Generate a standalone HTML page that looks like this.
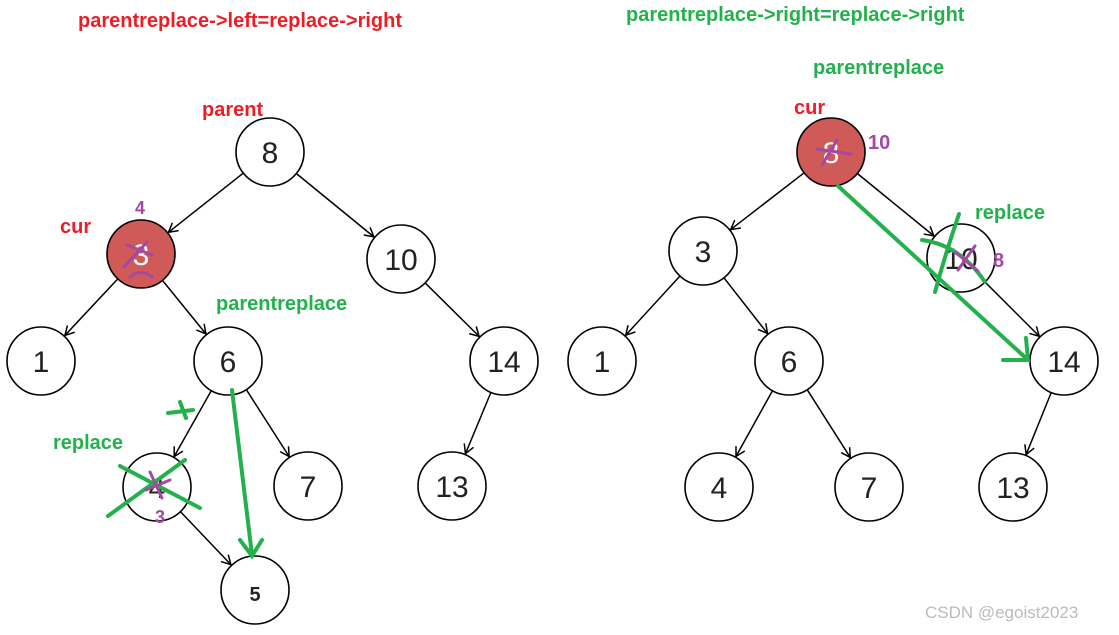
<!DOCTYPE html>
<html><head><meta charset="utf-8"><style>
html,body{margin:0;padding:0;background:#fff;}
svg{display:block;font-family:"Liberation Sans","DejaVu Sans",sans-serif;}
</style></head><body>
<svg id="s" width="1119" height="635" viewBox="0 0 1119 635" xmlns="http://www.w3.org/2000/svg">
<defs><marker id="a" markerWidth="12" markerHeight="12" refX="10" refY="6" orient="auto" markerUnits="userSpaceOnUse"><path d="M1,1 L10,6 L1,11" fill="none" stroke="#000" stroke-width="1.5"/></marker></defs>
<g id="edges" stroke="#000" stroke-width="1.5" fill="none"></g>
<g id="nodes"></g>
<g font-weight="bold" font-size="20">
<text x="78" y="27" fill="#ee1c25">parentreplace-&gt;left=replace-&gt;right</text>
<text x="626" y="21" fill="#22b14c">parentreplace-&gt;right=replace-&gt;right</text>
<text x="202" y="116" fill="#ee1c25">parent</text>
<text x="60" y="233" fill="#ee1c25">cur</text>
<text x="216" y="310" fill="#22b14c">parentreplace</text>
<text x="53" y="449" fill="#22b14c">replace</text>
<text x="813" y="74" fill="#22b14c">parentreplace</text>
<text x="794" y="114" fill="#ee1c25">cur</text>
<text x="975" y="219" fill="#22b14c">replace</text>
<text x="135" y="214" fill="#a349a4" font-size="18">4</text>
<text x="155" y="523" fill="#a349a4" font-size="18">3</text>
<text x="868" y="149" fill="#a349a4">10</text>
<text x="993" y="267" fill="#a349a4">8</text>
</g>
<g stroke="#22b14c" stroke-width="4" fill="none" stroke-linecap="round">
<path d="M232,390 L252,555 M240,540 L252,556 L262,540"/>
<path d="M838,186 L1028,360 M1003,360 L1028,360 L1026,338"/>
<path d="M168,413 L193,410 M180,402 L186,418"/>
<path d="M120,466 L200,508 M108,516 L185,460"/>
<path d="M922,240 Q960,245 985,282 M959,214 Q945,255 935,292"/>
</g>
<g stroke="#a349a4" stroke-width="3" fill="none" stroke-linecap="round">
<path d="M127,245 L152,255 M124,267 L147,242 M130,277 Q141,268 152,277"/>
<path d="M150,472 L162,498 M146,490 L170,480"/>
<path d="M817,149 L851,154 M822,165 L837,140"/>
<path d="M955,252 L978,271 M958,270 L975,246"/>
</g>
</svg>
<script>
var N={L8:[270,152],L3:[141,254],L10:[401,259],L1:[41,361],L6:[228,361],L14:[504,361],L4:[157,487],L7:[308,486],L13:[452,486],L5:[255,590],
R8:[831,152],R3:[703,251],R10:[961,258],R1:[602,361],R6:[789,361],R14:[1064,361],R4:[719,487],R7:[869,487],R13:[1013,487]};
var lab={L8:"8",L3:"3",L10:"10",L1:"1",L6:"6",L14:"14",L4:"4",L7:"7",L13:"13",L5:"5",R8:"8",R3:"3",R10:"10",R1:"1",R6:"6",R14:"14",R4:"4",R7:"7",R13:"13"};
var E=[["L8","L3"],["L8","L10"],["L3","L1"],["L3","L6"],["L10","L14"],["L6","L4"],["L6","L7"],["L14","L13"],["L4","L5"],
["R8","R3"],["R8","R10"],["R3","R1"],["R3","R6"],["R10","R14"],["R6","R4"],["R6","R7"],["R14","R13"]];
var r=34,ns="http://www.w3.org/2000/svg",eg=document.getElementById("edges"),ng=document.getElementById("nodes");
E.forEach(function(e){var a=N[e[0]],b=N[e[1]],dx=b[0]-a[0],dy=b[1]-a[1],d=Math.hypot(dx,dy),ux=dx/d,uy=dy/d;
var l=document.createElementNS(ns,"line");l.setAttribute("x1",a[0]+ux*r);l.setAttribute("y1",a[1]+uy*r);l.setAttribute("x2",b[0]-ux*(r+1));l.setAttribute("y2",b[1]-uy*(r+1));l.setAttribute("marker-end","url(#a)");eg.appendChild(l);});
for(var k in N){var p=N[k],red=(k=="L3"||k=="R8");
var c=document.createElementNS(ns,"circle");c.setAttribute("cx",p[0]);c.setAttribute("cy",p[1]);c.setAttribute("r",r);c.setAttribute("fill",red?"#d05a58":"#fff");c.setAttribute("stroke","#000");c.setAttribute("stroke-width","1.6");ng.appendChild(c);
var t=document.createElementNS(ns,"text");t.setAttribute("x",p[0]);t.setAttribute("y",p[1]+11);t.setAttribute("text-anchor","middle");t.setAttribute("font-size",k=="L5"?"20":"30");if(k=="L5")t.setAttribute("font-weight","bold");t.setAttribute("fill",red?"#fff":"#222");t.textContent=lab[k];ng.appendChild(t);}
</script>
<div style="position:absolute;left:925px;top:603px;font:17px 'Liberation Sans',sans-serif;color:#bbb;">CSDN @egoist2023</div>
</body></html>
